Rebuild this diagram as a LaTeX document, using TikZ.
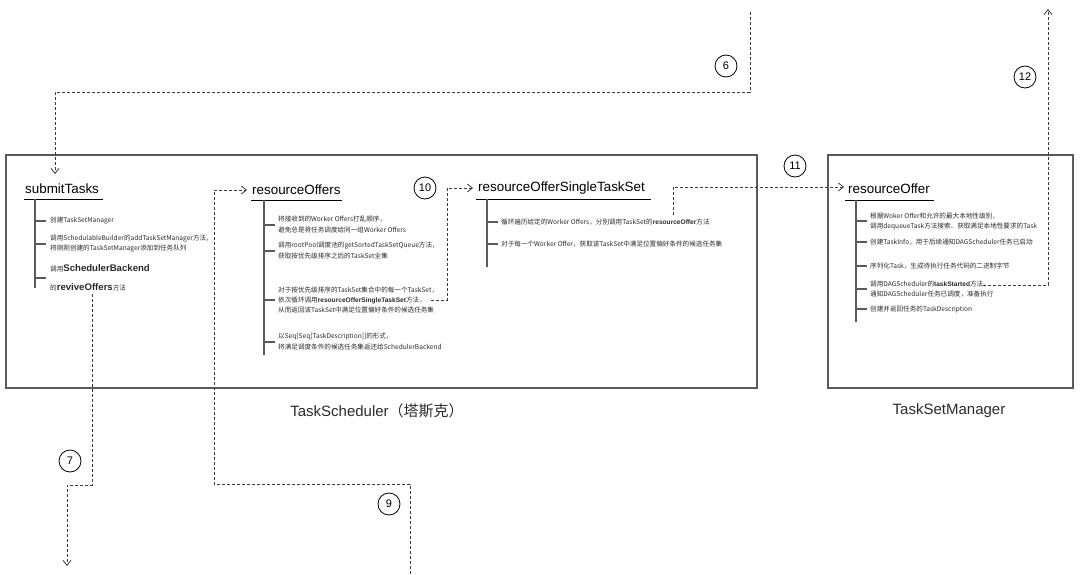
\documentclass[tikz,border=0pt]{standalone}
\usepackage{fontspec}
\setmainfont{Liberation Sans}
\newfontfamily\cjk{Noto Sans CJK SC}
\usepackage{tikz}
\usetikzlibrary{
  arrows.meta,
  positioning,
  calc
}
\definecolor{tsLine}{HTML}{5A5A5A}
\definecolor{tsFlow}{HTML}{3A3A3A}
\definecolor{tsText}{HTML}{2A2A2A}
\newcommand{\tsb}[1]{{\rmfamily\bfseries #1}}
\newcommand{\tsbig}[1]{{\rmfamily\bfseries\fontsize{9.6}{11}\selectfont #1}}
\tikzset{
  panel/.style={draw=tsLine, line width=1.1pt},
  methodname/.style={font=\fontsize{13.4}{15}\selectfont, inner sep=0pt, anchor=west, text=black},
  stepnote/.style={font=\cjk\fontsize{6.6}{10.4}\selectfont, inner sep=0pt, anchor=west,
    align=left, text=tsText},
  caption/.style={font=\cjk\fontsize{15}{17}\selectfont, inner sep=0pt, text=tsText},
  underbar/.style={draw=black, line width=0.9pt},
  treeline/.style={draw=tsLine, line width=1.2pt},
  stepnum/.style={draw=black, circle, line width=0.8pt, minimum size=22pt, inner sep=0pt,
    font=\fontsize{11}{12}\selectfont},
  flow/.style={-{Straight Barb[length=5pt, width=8pt]}, draw=tsFlow, line width=0.8pt,
    dash pattern=on 3pt off 2pt}
}

\begin{document}
\begin{tikzpicture}[x=1pt, y=-1pt]
  \useasboundingbox (0,0) rectangle (1080,574);

  % panels
  \draw[panel] (6,155) rectangle (757,388);
  \draw[panel] (828,155) rectangle (1073,388);
  \node[caption] (capSched) at (377,411) {{\rmfamily TaskScheduler}（塔斯克）};
  \node[caption] (capMgr) at (949,411) {\rmfamily TaskSetManager};

  % submitTasks
  \node[methodname] (tSubmit) at (25,189) {submitTasks};
  \draw[underbar] (24,199) -- (103,199);
  \draw[treeline] (35,199) -- (35,288);
  \foreach \y in {221,244,278} \draw[treeline] (35,\y) -- (46,\y);
  \node[stepnote] (sub1) at (50,221) {创建TaskSetManager};
  \node[stepnote] (sub2) at (50,243.5) {调用SchedulableBuilder的addTaskSetManager方法，\\将刚刚创建的TaskSetManager添加到任务队列};
  \node[stepnote] (sub3) at (50,268) {调用\tsbig{SchedulerBackend}};
  \node[stepnote] (sub4) at (50,287) {的\tsbig{reviveOffers}方法};

  % resourceOffers
  \node[methodname] (tOffers) at (252,190) {resourceOffers};
  \draw[underbar] (251,200) -- (342,200);
  \draw[treeline] (264,200) -- (264,355);
  \foreach \y in {225,251,300,342} \draw[treeline] (264,\y) -- (275,\y);
  \node[stepnote] (off1) at (278,224.5) {将接收到的Worker Offers打乱顺序，\\避免总是将任务调度给同一组Worker Offers};
  \node[stepnote] (off2) at (278,250.5) {调用rootPool调度池的getSortedTaskSetQueue方法，\\获取按优先级排序之后的TaskSet全集};
  \node[stepnote] (off3) at (278,300) {对于按优先级排序的TaskSet集合中的每一个TaskSet，\\依次循环调用\tsb{resourceOfferSingleTaskSet}方法，\\从而返回该TaskSet中满足位置偏好条件的候选任务集};
  \node[stepnote] (off4) at (278,341.5) {以Seq[Seq[TaskDescription]]的形式，\\将满足调度条件的候选任务集返还给SchedulerBackend};

  % resourceOfferSingleTaskSet
  \node[methodname] (tSingle) at (478,188) {resourceOfferSingleTaskSet};
  \draw[underbar] (476,199) -- (651,199);
  \draw[treeline] (487,199) -- (487,267);
  \foreach \y in {222,244} \draw[treeline] (487,\y) -- (498,\y);
  \node[stepnote] (one1) at (501,222) {循环遍历给定的Worker Offers，分别调用TaskSet的\tsb{resourceOffer}方法};
  \node[stepnote] (one2) at (501,244) {对于每一个Worker Offer，获取该TaskSet中满足位置偏好条件的候选任务集};

  % resourceOffer
  \node[methodname] (tOffer) at (848,189) {resourceOffer};
  \draw[underbar] (845,200) -- (934,200);
  \draw[treeline] (856,200) -- (856,322);
  \foreach \y in {221,242,266,289,309} \draw[treeline] (856,\y) -- (867,\y);
  \node[stepnote] (mgr1) at (870,221.5) {根据Woker Offer和允许的最大本地性级别，\\调用dequeueTask方法搜索、获取满足本地性要求的Task};
  \node[stepnote] (mgr2) at (870,242) {创建TaskInfo，用于后续通知DAGScheduler任务已启动};
  \node[stepnote] (mgr3) at (870,266) {序列化Task，生成待执行任务代码的二进制字节};
  \node[stepnote] (mgr4) at (870,289) {调用DAGScheduler的\tsb{taskStarted}方法，\\通知DAGScheduler任务已调度，准备执行};
  \node[stepnote] (mgr5) at (870,309) {创建并返回任务的TaskDescription};

  % connector ends
  \coordinate (from6) at (750,12);
  \coordinate (to6) at (55,174);
  \coordinate (from7) at (92,294);
  \coordinate (to7) at (67,566);
  \coordinate (from9) at (410,574);
  \coordinate (to9) at (247,190);
  \coordinate (from10) at (431,300);
  \coordinate (to10) at (473,188);
  \coordinate (from11) at (673,215);
  \coordinate (to11) at (844,187);
  \coordinate (from12) at (983,285);
  \coordinate (to12) at (1048,9);

  % connectors
  \draw[flow] (from6) -- ++(0,80) -| (to6);
  \draw[flow] (from7) -- (92,485) -| (to7);
  \draw[flow] (from9) -- (410,484) -| (214,190) -- (to9);
  \draw[flow] (from10) -| (447,188) -- (to10);
  \draw[flow] (from11) |- (to11);
  \draw[flow] (from12) -| (to12);

  % step numbers
  \node[stepnum] (n6) at (726,66) {6};
  \node[stepnum] (n7) at (70,461) {7};
  \node[stepnum] (n9) at (389,504) {9};
  \node[stepnum] (n10) at (425,188) {10};
  \node[stepnum] (n11) at (795,166) {11};
  \node[stepnum] (n12) at (1025,77) {12};
\end{tikzpicture}
\end{document}
